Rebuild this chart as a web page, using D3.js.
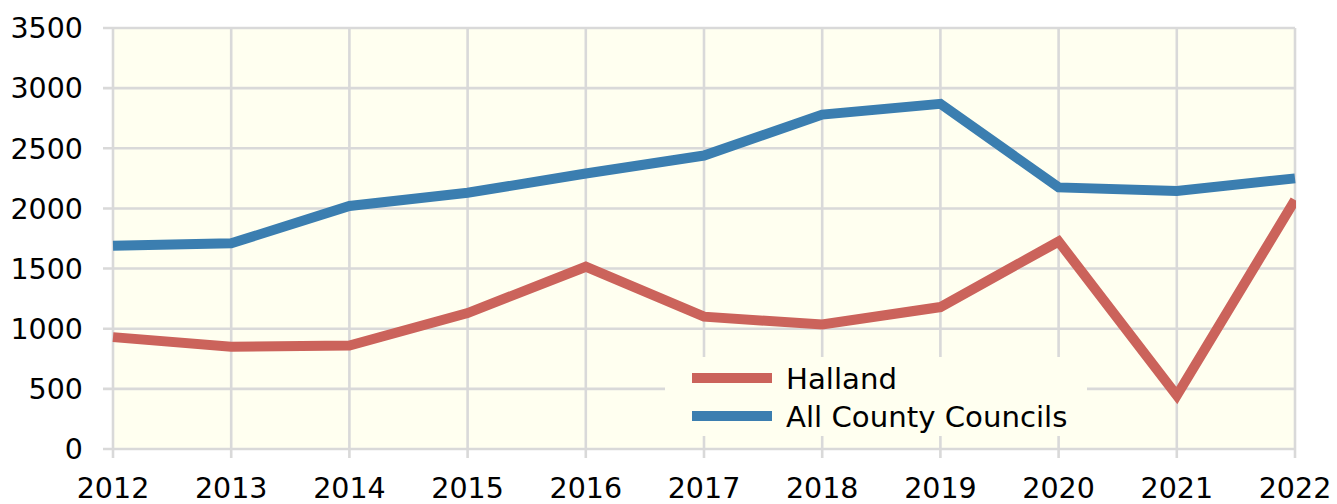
<!DOCTYPE html>
<html>
<head>
<meta charset="utf-8">
<script src="https://cdn.jsdelivr.net/npm/d3@7"></script>
<style>
  html, body { margin: 0; padding: 0; background: #ffffff; }
  svg { display: block; font-family: "DejaVu Sans", Verdana, sans-serif; }
</style>
</head>
<body>
<svg id="chart" width="1337" height="504"></svg>
<script>
// Yearly values per series
const years = [2012, 2013, 2014, 2015, 2016, 2017, 2018, 2019, 2020, 2021, 2022];
const halland = [930, 850, 860, 1130, 1515, 1100, 1035, 1180, 1725, 445, 2070];
const allCouncils = [1690, 1710, 2020, 2130, 2290, 2440, 2780, 2870, 2175, 2145, 2250];
const yTicks = [0, 500, 1000, 1500, 2000, 2500, 3000, 3500];
const seriesNames = ["Halland", "All County Councils"];
const seriesColors = ["#cb635b", "#3b7eb0"];

(function () {
  const svg = d3.select("#chart");
  const plotL = 113, plotR = 1295, plotT = 28, plotB = 449;

  const x = d3.scaleLinear().domain([2012, 2022]).range([plotL, plotR]);
  const y = d3.scaleLinear().domain([0, 3500]).range([plotB, plotT]);

  // plot background
  svg.append("rect")
    .attr("x", plotL).attr("y", plotT)
    .attr("width", plotR - plotL).attr("height", plotB - plotT)
    .attr("fill", "#fffff0");

  // gridlines with outer tick stubs
  const grid = svg.append("g").attr("stroke", "#d9d9d9").attr("stroke-width", 2.6);
  grid.selectAll("line.h").data(yTicks).join("line")
    .attr("class", "h")
    .attr("x1", plotL - 10).attr("x2", plotR)
    .attr("y1", d => y(d)).attr("y2", d => y(d));
  grid.selectAll("line.v").data(years).join("line")
    .attr("class", "v")
    .attr("x1", d => x(d)).attr("x2", d => x(d))
    .attr("y1", plotT).attr("y2", plotB + 9);

  // axis labels
  svg.append("g").selectAll("text").data(yTicks).join("text")
    .attr("x", 83).attr("y", d => y(d))
    .attr("dy", "0.36em")
    .attr("text-anchor", "end")
    .attr("font-size", 28.5)
    .attr("fill", "#000")
    .text(d => d);

  svg.append("g").selectAll("text").data(years).join("text")
    .attr("x", d => x(d)).attr("y", 498)
    .attr("text-anchor", "middle")
    .attr("font-size", 28.5)
    .attr("fill", "#000")
    .text(d => d);

  // series lines, cut off at the right edge of the plot
  svg.append("defs").append("clipPath").attr("id", "plotClip")
    .append("rect")
    .attr("x", plotL - 20).attr("y", 0)
    .attr("width", plotR - plotL + 21).attr("height", 504);

  const line = d3.line().x((d, i) => x(years[i])).y(d => y(d));
  const lines = svg.append("g").attr("clip-path", "url(#plotClip)");
  [[allCouncils, seriesColors[1]], [halland, seriesColors[0]]].forEach(([vals, color]) => {
    lines.append("path")
      .datum(vals)
      .attr("d", line)
      .attr("fill", "none")
      .attr("stroke", color)
      .attr("stroke-width", 10)
      .attr("stroke-linejoin", "miter")
      .attr("stroke-linecap", "butt");
  });

  // legend
  const legend = svg.append("g");
  legend.append("rect")
    .attr("x", 665).attr("y", 357)
    .attr("width", 422).attr("height", 79)
    .attr("fill", "#fffff0");
  seriesNames.forEach((name, i) => {
    const cy = 378 + i * 38;
    legend.append("line")
      .attr("x1", 692).attr("x2", 772)
      .attr("y1", cy).attr("y2", cy)
      .attr("stroke", seriesColors[i])
      .attr("stroke-width", 10);
    legend.append("text")
      .attr("x", 786).attr("y", cy)
      .attr("dy", "0.36em")
      .attr("font-size", 29.2)
      .attr("fill", "#000")
      .text(name);
  });
})();
</script>
</body>
</html>
